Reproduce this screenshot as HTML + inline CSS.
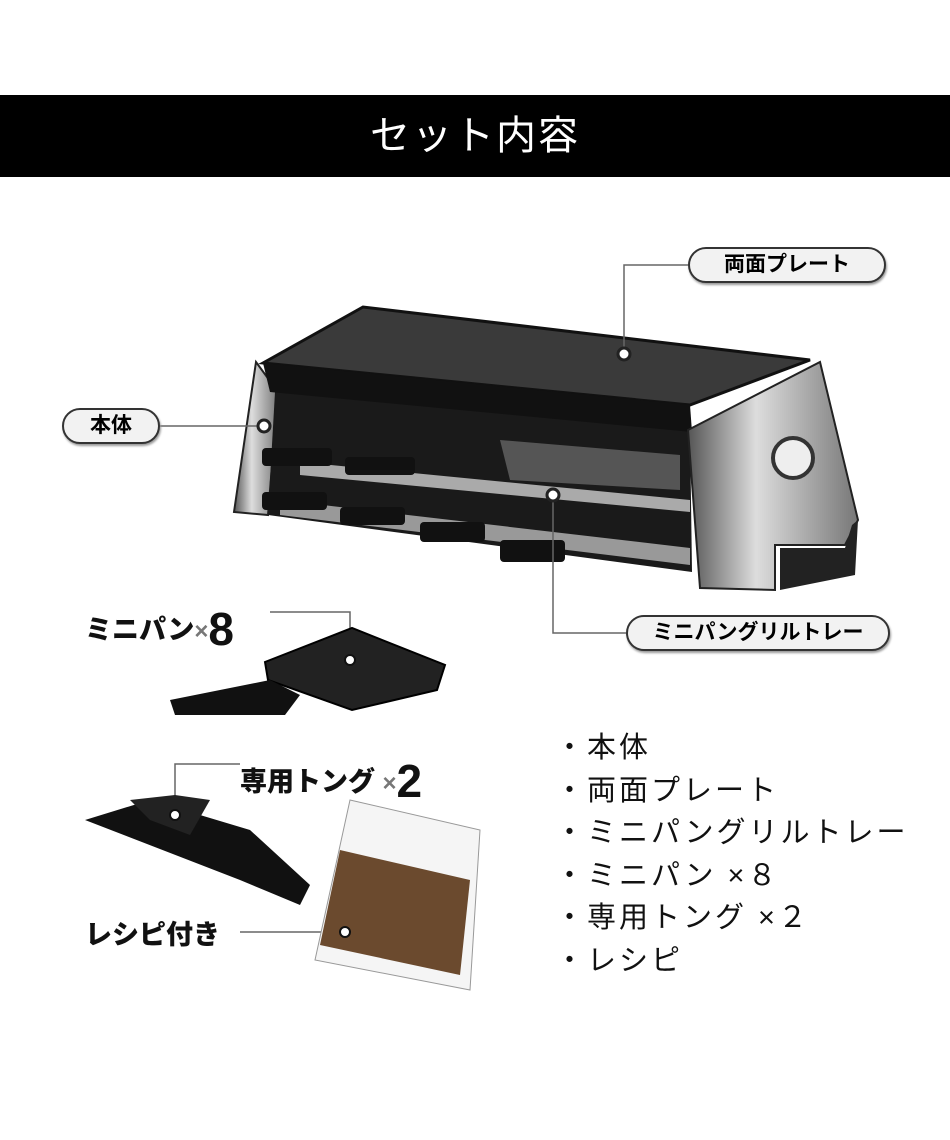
<!DOCTYPE html>
<html><head><meta charset="utf-8"><style>
body{margin:0;width:950px;height:1140px;background:#fff;position:relative;overflow:hidden;font-family:"Liberation Sans","Noto Sans CJK JP",sans-serif}
.banner{position:absolute;left:0;top:95px;width:950px;height:82px;background:#000;color:#fff;font-size:40px;text-align:center;line-height:82px;letter-spacing:2px}
.pill{position:absolute;border:2px solid #333;border-radius:18px;background:#f2f2f2;font-weight:bold;font-size:21px;text-align:center;box-sizing:border-box;line-height:31px;box-shadow:1px 2px 2px #999}
.bold{position:absolute;font-weight:900;font-size:27px;color:#111;white-space:nowrap}
.list{position:absolute;left:555px;top:727px;font-size:29px;line-height:42.6px;color:#111;letter-spacing:3px}
svg{position:absolute;left:0;top:0}
</style></head><body>
<div class="banner">セット内容</div>
<svg width="950" height="1140">
<defs><linearGradient id="s" x1="0" x2="1"><stop offset="0" stop-color="#555"/><stop offset=".4" stop-color="#ddd"/><stop offset="1" stop-color="#777"/></linearGradient></defs>
<polygon points="256,362 278,392 268,515 234,512" fill="url(#s)" stroke="#222" stroke-width="2"/>
<polygon points="275,392 690,430 692,572 268,515" fill="#1a1a1a"/>
<polygon points="300,462 690,500 690,512 300,475" fill="#aaa"/>
<polygon points="280,500 690,548 690,565 280,515" fill="#999"/>
<polygon points="500,440 680,455 680,490 510,480" fill="#555"/>
<g fill="#111">
<rect x="262" y="448" width="70" height="18" rx="4"/><rect x="345" y="457" width="70" height="18" rx="4"/>
<rect x="262" y="492" width="65" height="18" rx="4"/><rect x="340" y="507" width="65" height="18" rx="4"/>
<rect x="420" y="522" width="65" height="20" rx="4"/><rect x="500" y="540" width="65" height="22" rx="4"/>
</g>
<polygon points="263,363 363,307 810,360 690,405" fill="#3a3a3a" stroke="#111" stroke-width="3"/>
<polygon points="263,363 690,405 692,432 270,392" fill="#111"/>
<polygon points="688,430 820,362 858,520 845,545 775,545 775,590 700,588" fill="url(#s)" stroke="#222" stroke-width="2"/>
<polygon points="780,548 845,548 852,525 858,520 855,575 780,590" fill="#222"/>
<circle cx="793" cy="458" r="20" fill="#eee" stroke="#333" stroke-width="4"/>
<g stroke="#666" stroke-width="1.5" fill="none">
<polyline points="688,265 624,265 624,352"/>
<polyline points="160,426 265,426"/>
<polyline points="626,633 553,633 553,495"/>
<polyline points="270,612 350,612 350,655"/>
<polyline points="240,764 175,764 175,815"/>
<polyline points="240,932 345,932"/>
</g>
<g fill="#fff" stroke="#222" stroke-width="3">
<circle cx="624" cy="354" r="6"/><circle cx="264" cy="426" r="6"/><circle cx="553" cy="495" r="6"/>
</g>
<polygon points="265,662 352,628 445,665 437,690 352,710 268,680" fill="#222" stroke="#000" stroke-width="2"/>
<polygon points="170,700 270,680 300,695 285,715 175,715" fill="#111"/>
<circle cx="350" cy="660" r="5" fill="#fff" stroke="#111" stroke-width="2"/>
<polygon points="85,820 150,800 250,830 310,885 300,905 240,880" fill="#111"/>
<polygon points="130,800 175,795 210,800 190,835 150,820" fill="#222"/>
<circle cx="175" cy="815" r="5" fill="#fff" stroke="#111" stroke-width="2"/>
<polygon points="350,800 480,830 470,990 315,960" fill="#f5f5f5" stroke="#999"/>
<polygon points="340,850 470,880 460,975 320,945" fill="#6b4a2e"/>
<circle cx="345" cy="932" r="5" fill="#fff" stroke="#111" stroke-width="2"/>
</svg>
<div class="pill" style="left:688px;top:247px;width:198px;height:36px">両面プレート</div>
<div class="pill" style="left:62px;top:408px;width:98px;height:36px">本体</div>
<div class="pill" style="left:626px;top:615px;width:264px;height:36px">ミニパングリルトレー</div>
<div class="bold" style="left:85px;top:596px">ミニパン<span style="font-size:24px;color:#777">×</span><span style="font-size:46px;position:relative;top:6px">8</span></div>
<div class="bold" style="left:240px;top:748px">専用トング <span style="font-size:24px;color:#777">×</span><span style="font-size:46px;position:relative;top:6px">2</span></div>
<div class="bold" style="left:85px;top:913px">レシピ付き</div>
<div class="list">・本体<br>・両面プレート<br>・ミニパングリルトレー<br>・ミニパン ×８<br>・専用トング ×２<br>・レシピ</div>
</body></html>
